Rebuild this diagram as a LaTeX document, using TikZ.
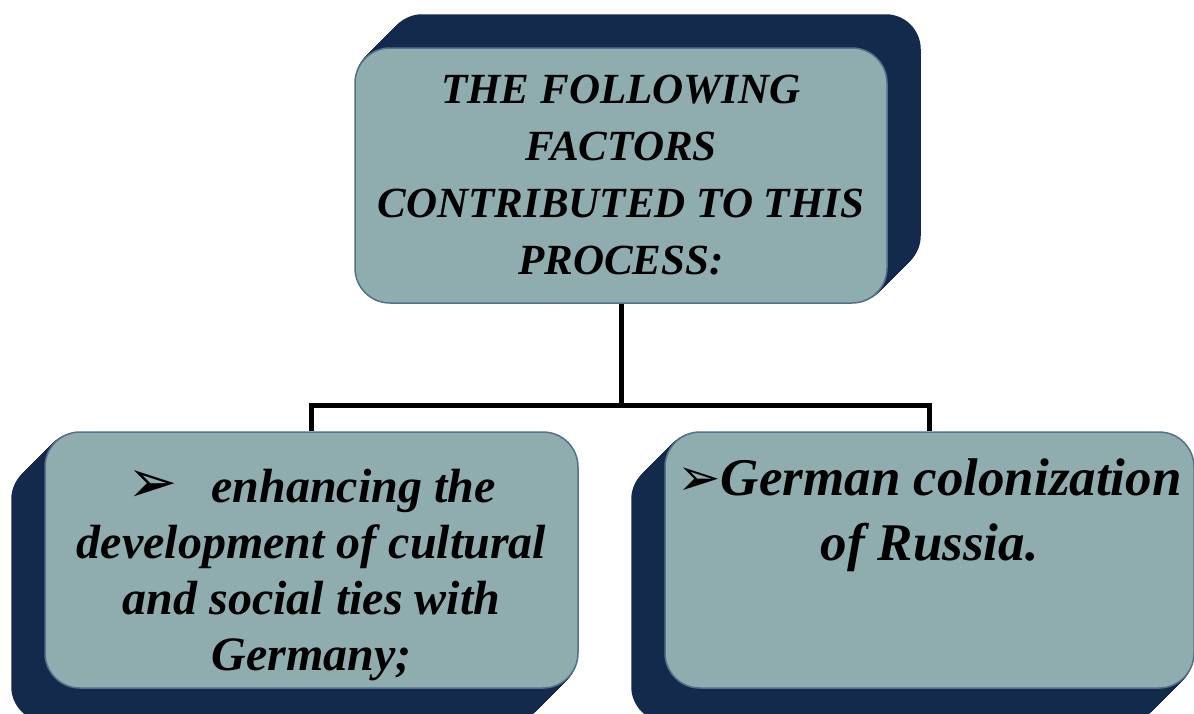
\documentclass[tikz,border=0pt]{standalone}
\usepackage{fontspec}
\setmainfont{Liberation Serif}
\newfontfamily\dingfont{DejaVu Sans}
\usetikzlibrary{calc,backgrounds}
\definecolor{facegray}{HTML}{8FACAF}
\definecolor{edgeslate}{HTML}{56708A}
\definecolor{depthnavy}{HTML}{132A4D}
\newcommand{\bul}[1]{{\fontsize{#1}{#1}\dingfont\char"27A2}}

\begin{document}
\begin{tikzpicture}[x=1pt,y=-1pt]
      \tikzstyle{every node}+=[inner sep=0pt]
      \tikzstyle{face}=[draw=edgeslate, line width=1.5pt, fill=facegray, rounded corners=35pt, align=center, font=\bfseries\itshape]
      \tikzstyle{conn}=[black, line width=5pt]
      \useasboundingbox (0,0) rectangle (1194,713);
      \node [face, minimum width=532pt, minimum height=255pt] (factors) at (621,175.5)
        {\parbox[c][230pt][c]{525pt}{\centering\fontsize{43}{57}\selectfont THE FOLLOWING\\ FACTORS\\ CONTRIBUTED TO THIS\\ PROCESS:}};
      \node [face, minimum width=533pt, minimum height=256pt] (ties) at (311.5,560)
        {\parbox[c][230pt][c]{525pt}{\centering\fontsize{48}{56}\selectfont\vspace*{30pt}\bul{60}\hspace{34pt}enhancing the\\ development of cultural\\ and social ties with\\ Germany;}};
      \node [face, minimum width=529pt, minimum height=256pt] (colon) at (929.5,560)
        {\parbox[c][230pt][t]{528pt}{\centering\fontsize{53}{65}\selectfont\vspace*{14pt}\bul{52}German colonization\\ of Russia.}};
      \begin{scope}[on background layer]
      \foreach \k in {1,...,33}
        \fill [depthnavy, rounded corners=35pt] ($(factors.south west)+(\k,-\k)$) rectangle ($(factors.north east)+(\k,-\k)$);
      \foreach \k in {1,...,33}
        \fill [depthnavy, rounded corners=35pt] ($(ties.south west)+(-\k,\k)$) rectangle ($(ties.north east)+(-\k,\k)$);
      \foreach \k in {1,...,33}
        \fill [depthnavy, rounded corners=35pt] ($(colon.south west)+(-\k,\k)$) rectangle ($(colon.north east)+(-\k,\k)$);
      \end{scope}
      \coordinate (fork) at (621,405);
      \draw [conn] (factors.south) -- (fork);
      \draw [conn] (ties.north) |- (fork) -| (colon.north);
      \end{tikzpicture}
\end{document}
